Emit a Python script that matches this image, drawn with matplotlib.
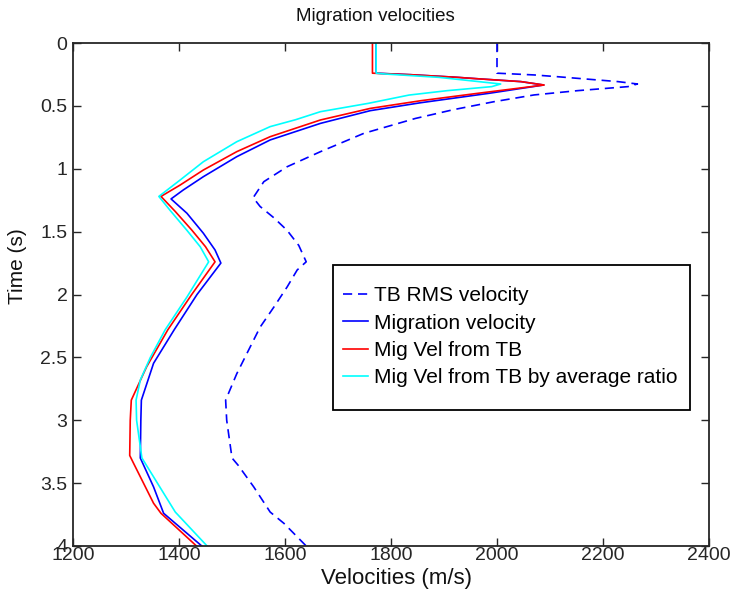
import matplotlib
matplotlib.use("Agg")
import matplotlib.pyplot as plt
from matplotlib.patches import Rectangle

plt.rcParams['font.family'] = ['Liberation Sans', 'DejaVu Sans']

# ---- data (time in s, velocity in m/s) ----
tb_rms_t = [0, 0.24, 0.254, 0.268, 0.281, 0.294, 0.307, 0.326, 0.347, 0.379, 0.413,
            0.467, 0.53, 0.60, 0.718, 0.864, 0.984, 1.103, 1.23, 1.30, 1.39, 1.49,
            1.61, 1.74, 1.805, 1.94, 2.10, 2.26, 2.47, 2.63, 2.84, 3.0, 3.21, 3.30,
            3.36, 3.53, 3.73, 3.82, 4.0]
tb_rms_v = [2000, 2000, 2070, 2114, 2152, 2190, 2228, 2265, 2247, 2152, 2070,
            1994, 1918, 1846, 1749, 1667, 1604, 1560, 1540, 1553, 1579, 1604,
            1626, 1640, 1623, 1604, 1579, 1553, 1528, 1509, 1488, 1490, 1497, 1500,
            1512, 1541, 1572, 1598, 1640]

mig_t = [0, 0.24, 0.252, 0.273, 0.286, 0.307, 0.334, 0.40, 0.475, 0.538, 0.639,
         0.771, 0.904, 1.063, 1.169, 1.24, 1.354, 1.513, 1.646, 1.75, 2.0, 2.28,
         2.547, 2.84, 3.0, 3.30, 3.53, 3.74, 4.0]
mig_v = [1772, 1772, 1837, 1925, 1969, 2045, 2088, 1985, 1856, 1761, 1667,
         1572, 1509, 1446, 1408, 1385, 1415, 1446, 1468, 1479, 1434, 1391,
         1352, 1329, 1328, 1327, 1352, 1371, 1443]

tb_mig_t = [0, 0.24, 0.252, 0.273, 0.286, 0.307, 0.334, 0.40, 0.459, 0.52, 0.612,
            0.745, 0.864, 1.01, 1.13, 1.22, 1.34, 1.487, 1.62, 1.74, 2.0, 2.28,
            2.574, 2.84, 3.0, 3.28, 3.34, 3.50, 3.66, 3.74, 4.0]
tb_mig_v = [1765, 1765, 1837, 1925, 1969, 2045, 2089, 1964, 1856, 1761, 1667,
            1572, 1509, 1446, 1402, 1366, 1393, 1424, 1450, 1468, 1424, 1379,
            1339, 1310, 1308, 1307, 1314, 1333, 1352, 1366, 1433]

ratio_t = [0, 0.24, 0.247, 0.273, 0.30, 0.326, 0.347, 0.379, 0.414, 0.48, 0.546,
           0.61, 0.665, 0.785, 0.944, 1.09, 1.22, 1.33, 1.49, 1.62, 1.74, 2.02,
           2.28, 2.50, 2.68, 2.84, 3.0, 3.30, 3.45, 3.58, 3.73, 4.0]
ratio_v = [1772, 1772, 1790, 1890, 1950, 2007, 1990, 1906, 1834, 1757, 1667,
           1620, 1572, 1509, 1446, 1402, 1362, 1383, 1415, 1440, 1456, 1415,
           1374, 1346, 1327, 1319, 1320, 1330, 1352, 1371, 1393, 1453]

series_labels = ["TB RMS velocity", "Migration velocity", "Mig Vel from TB",
                 "Mig Vel from TB by average ratio"]
x_ticks = [1200, 1400, 1600, 1800, 2000, 2200, 2400]
y_ticks = [0, 0.5, 1, 1.5, 2, 2.5, 3, 3.5, 4]
y_tick_labels = ["0", "0.5", "1", "1.5", "2", "2.5", "3", "3.5", "4"]

# ---- figure ----
W, H = 731, 591
fig = plt.figure(figsize=(W / 100, H / 100), dpi=100)
ax = fig.add_axes([73 / W, 1 - 546 / H, (709 - 73) / W, (546 - 43) / H])

lw = 1.2
ax.plot(tb_rms_v, tb_rms_t, color='#0000ff', lw=lw, linestyle=(0, (5.5, 3.5)),
        label=series_labels[0])
ax.plot(mig_v, mig_t, color='#0000ff', lw=lw, label=series_labels[1])
ax.plot(tb_mig_v, tb_mig_t, color='#ff0000', lw=lw, label=series_labels[2])
ax.plot(ratio_v, ratio_t, color='#00ffff', lw=lw, label=series_labels[3])

ax.set_xlim(1200, 2400)
ax.set_ylim(4, 0)
ax.set_xticks(x_ticks)
ax.set_xticklabels([str(v) for v in x_ticks])
ax.set_yticks(y_ticks)
ax.set_yticklabels(y_tick_labels)
ax.tick_params(direction='in', length=6, width=1.0, top=True, right=True,
               labelsize=14, colors='#262626')
ax.tick_params(axis='x', pad=1.0)
ax.tick_params(axis='y', pad=4)
for s in ax.spines.values():
    s.set_linewidth(1.3)
    s.set_color('#262626')

ax.set_title("Migration velocities", fontsize=13.5, pad=16, color='#111111', x=0.476)
ax.set_xlabel("Velocities (m/s)", fontsize=16, color='#111111')
ax.xaxis.set_label_coords(0.509, -0.044)
ax.set_ylabel("Time (s)", fontsize=15, color='#111111')
ax.yaxis.set_label_coords(-0.072, 0.557)

# legend box drawn as in the reference, entries inside it
ax.add_patch(Rectangle((0.409, 0.2704), 0.561, 0.2882, transform=ax.transAxes,
                       facecolor='white', edgecolor='black', lw=1.3, zorder=4.9))
leg = ax.legend(loc='upper left', bbox_to_anchor=(0.406, 0.539), fontsize=15,
                frameon=False, handlelength=1.2, handletextpad=0.3,
                labelspacing=0.4, borderpad=0.55, borderaxespad=0)
leg.set_zorder(5)

fig.savefig("out.png", dpi=100)
